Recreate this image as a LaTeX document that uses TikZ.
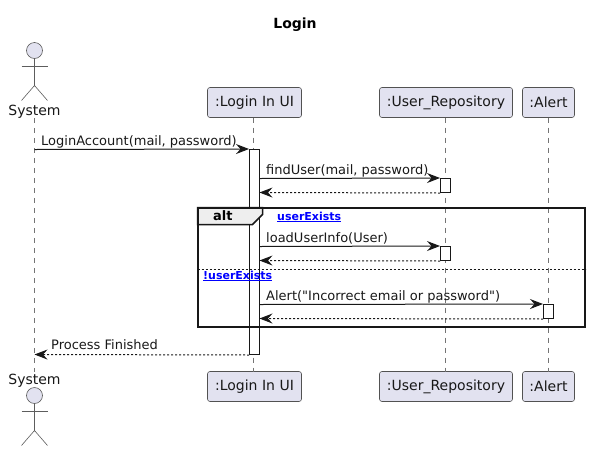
\documentclass[tikz,border=0pt]{standalone}
\usepackage{fontspec}
\setmainfont[Ligatures=TeXOff]{DejaVu Sans}
\usetikzlibrary{arrows.meta}

\tikzset{
	partbox/.style={draw=seqLine!75,fill=seqFill,line width=0.6pt,rounded corners=2.5pt,
		minimum height=30pt,inner sep=0pt,font=\fontsize{14}{16}\selectfont,text=seqLine},
	actorhead/.style={draw=seqLine!70,fill=seqFill,line width=0.6pt},
	actorbody/.style={draw=seqLine!70,line width=0.6pt},
	actorlabel/.style={inner sep=0pt,anchor=base,font=\fontsize{14}{16}\selectfont,text=seqLine},
	lifeline/.style={seqLine!60,line width=0.6pt,dash pattern=on 5pt off 5pt},
	actbar/.style={draw=seqLine,fill=white,line width=1pt,minimum width=10pt,inner sep=0pt},
	msg/.style={seqLine,line width=1pt,-{Stealth[length=13pt,width=10pt,inset=4.5pt]}},
	msgret/.style={msg,dash pattern=on 2pt off 2pt},
	msglabel/.style={inner sep=0pt,anchor=base west,font=\fontsize{13}{15}\selectfont,text=seqLine},
	altlink/.style={inner sep=0pt,anchor=base west,text=blue,font=\fontsize{11}{13}\selectfont\bfseries},
}

\begin{document}
\begin{tikzpicture}[x=1pt,y=-1pt]
\definecolor{seqLine}{HTML}{181818}
\definecolor{seqFill}{HTML}{E2E2F0}
\definecolor{seqTab}{HTML}{EEEEEE}
\useasboundingbox (0,0) rectangle (590,451);

\node[inner sep=0pt,anchor=base,font=\fontsize{14}{16}\selectfont\bfseries] (title) at (295,28) {Login};

% participants, top and bottom
\foreach \name/\lab/\xx/\boxw in {
	ui/{:Login In UI}/254.5/94,
	repo/{:User\_Repository}/446/133,
	alert/{:Alert}/548.5/52
} {
	\node[partbox,minimum width=\boxw] (\name top) at (\xx,102.5) {\lab};
	\node[partbox,minimum width=\boxw] (\name bot) at (\xx,386.5) {\lab};
}
\draw[lifeline] (253.5,117.5) -- (253.5,371.5);
\draw[lifeline] (445.5,117.5) -- (445.5,371.5);
\draw[lifeline] (548.5,117.5) -- (548.5,371.5);

% the actor
\node[actorlabel] (systop) at (34.5,115) {System};
\node[actorlabel] (sysbot) at (34.5,384) {System};
\draw[lifeline] (34.5,118) -- (34.5,372);
\foreach \yy in {50.5,395.5} {
	\draw[actorhead] (34.5,\yy) circle (8);
	\draw[actorbody] (34.5,\yy+8) -- (34.5,\yy+35);
	\draw[actorbody] (21.5,\yy+15.5) -- (47.5,\yy+15.5);
	\draw[actorbody] (21.5,\yy+50) -- (34.5,\yy+35) -- (47.5,\yy+50);
}

\node[actbar,minimum height=205pt] (uiact) at (254.5,252) {};

\coordinate (sysout) at (34.5,149.5);
\draw[msg] (sysout) -- (uiact.north west);
\node[msglabel] (loginlab) at (41,145) {LoginAccount(mail, password)};

\foreach \actname/\xx/\yy/\lab in {
	repoa/445.5/178.5/{findUser(mail, password)},
	repob/445.5/246.5/{loadUserInfo(User)},
	alerta/548.5/304.5/{Alert("Incorrect email or password")}
} {
	\node[actbar,minimum height=14pt] (\actname) at (\xx,\yy+7) {};
	\coordinate (\actname out) at (259.5,\yy);
	\coordinate (\actname back) at (259.5,\yy+14);
	\draw[msg] (\actname out) -- (\actname.north west);
	\draw[msgret] (\actname.south west) -- (\actname back);
	\node[msglabel] (\actname lab) at (266,\yy-4.5) {\lab};
}

\coordinate (sysback) at (34.5,354.5);
\draw[msgret] (uiact.south west) -- (sysback);
\node[msglabel] (donelab) at (51,349) {Process Finished};

% alt frame
\path[fill=seqTab,draw=seqLine,line width=1.5pt] (197.5,207.5) -- (262.5,207.5) -- (262.5,214.5)
	-- (252.5,224.5) -- (197.5,224.5) -- cycle;
\node[draw=seqLine,line width=2pt,minimum width=387pt,minimum height=119pt,inner sep=0pt] (altbox) at (391,267) {};
\node[inner sep=0pt,anchor=base west,font=\fontsize{13}{15}\selectfont\bfseries] (altlab) at (213,220.5) {alt};
\node[altlink] (caseyes) at (277,220) {\underline{userExists}};
\node[altlink] (caseno) at (203,279) {\underline{!userExists}};
\coordinate (altsep) at (197.5,269.5);
\draw[seqLine,line width=1pt,dash pattern=on 2pt off 2pt] (altsep) -- (altsep -| altbox.east);
\end{tikzpicture}
\end{document}
